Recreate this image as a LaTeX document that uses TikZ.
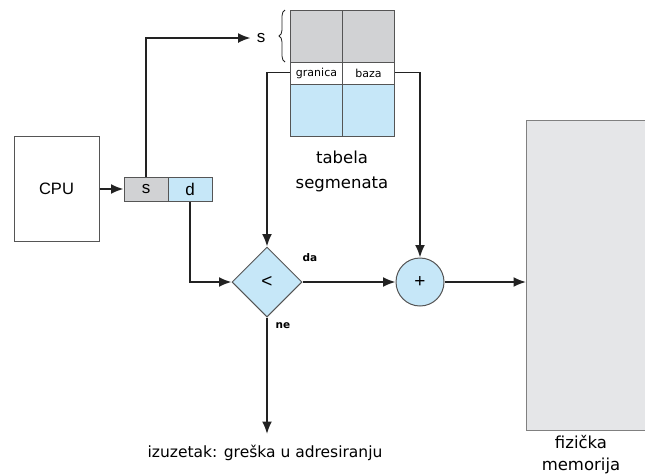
\documentclass[tikz,border=0pt]{standalone}
\usepackage{fontspec}
\usetikzlibrary{arrows.meta,shapes.geometric,decorations.pathreplacing}
\newfontfamily\djv{DejaVu Sans}
\newfontfamily\lib{Liberation Sans}
\definecolor{cellgray}{HTML}{D1D2D4}
\definecolor{cellblue}{HTML}{C6E7F8}
\definecolor{memgray}{HTML}{E5E6E8}
\definecolor{bordr}{HTML}{555555}
\definecolor{lnc}{HTML}{222222}
\tikzset{
  cell/.style={draw=bordr, line width=1pt, anchor=north west, inner sep=0pt,
    minimum width=52pt},
  ln/.style={draw=lnc, line width=1.8pt},
  arr/.style={ln, -{Latex[length=12.5pt,width=10pt]}},
  lbl/.style={inner sep=0pt, font=\djv\fontsize{15.5}{20}\selectfont},
}
\begin{document}
\begin{tikzpicture}[x=1pt,y=-1pt]
\useasboundingbox (0,0) rectangle (645,475);
% segment table
\node[cell, fill=cellgray, minimum height=52pt] (g1) at (290,10) {};
\node[cell, fill=cellgray, minimum height=52pt] (g2) at (342,10) {};
\node[cell, fill=white, minimum height=22pt, font=\djv\fontsize{11}{13}\selectfont] (w1) at (290,62) {granica};
\node[cell, fill=white, minimum height=22pt, font=\djv\fontsize{11}{13}\selectfont] (w2) at (342,62) {baza};
\node[cell, fill=cellblue, minimum height=52pt] (b1) at (290,84) {};
\node[cell, fill=cellblue, minimum height=52pt] (b2) at (342,84) {};
\draw[draw=lnc, line width=0.8pt, decorate, decoration={brace, amplitude=6pt}] (285,62) -- (285,10);
\node[inner sep=0pt, font=\lib\fontsize{17}{20}\selectfont] (slbl) at (261,38) {s};
\node[lbl, align=center, font=\djv\fontsize{16.5}{25}\selectfont] (tab) at (342,171) {tabela\\segmenata};
% CPU and address
\node[draw=bordr, line width=1pt, minimum width=85pt, minimum height=105pt, inner sep=0pt,
  font=\lib\fontsize{16.5}{20}\selectfont] (cpu) at (56.5,188.5) {CPU};
\node[draw=bordr, line width=1pt, fill=cellgray, minimum width=44pt, minimum height=24pt, inner sep=0pt,
  font=\lib\fontsize{17}{20}\selectfont] (sbox) at (146,189) {s};
\node[draw=bordr, line width=1pt, fill=cellblue, minimum width=44pt, minimum height=24pt, inner sep=0pt,
  font=\lib\fontsize{17}{20}\selectfont] (dbox) at (190,189) {d};
% comparator and adder
\node[diamond, draw=bordr, line width=1pt, fill=cellblue, minimum width=70pt, minimum height=70pt,
  inner sep=0pt, font=\lib\fontsize{19}{20}\selectfont] (lt) at (267,282) {<};
\node[circle, draw=bordr, line width=1pt, fill=cellblue, minimum size=48pt, inner sep=0pt,
  font=\lib\fontsize{19}{20}\selectfont] (plus) at (420,282) {+};
\node[inner sep=0pt, font=\djv\bfseries\fontsize{10.5}{12}\selectfont] (da) at (310,258) {da};
\node[inner sep=0pt, font=\djv\bfseries\fontsize{10.5}{12}\selectfont] (ne) at (283,326) {ne};
% memory
\node[draw=gray, line width=1.2pt, fill=memgray, anchor=north west, minimum width=140pt,
  minimum height=310pt, inner sep=0pt] (mem) at (526,120) {};
\node[lbl, align=center, font=\djv\fontsize{16.5}{22}\selectfont] (memlbl) at (581,455) {fizička\\memorija};
% exception
\coordinate (errtip) at (267,434);
\node[lbl] (err) at (265,453) {izuzetak: greška u adresiranju};
% connectors
\draw[arr] (cpu.east |- sbox) -- (sbox.west);
\draw[arr] (sbox.north) |- ([xshift=-6pt]slbl.west);
\draw[arr] (dbox.south) |- (lt.west);
\draw[arr] ([yshift=1pt]w1.west) -| (lt.north);
\draw[arr] ([yshift=1pt]w2.east) -| (plus.north);
\draw[arr] (lt.east) -- (plus.west);
\draw[arr] (plus.east) -- (mem.west |- plus);
\draw[arr] (lt.south) -- (errtip);
\end{tikzpicture}
\end{document}
